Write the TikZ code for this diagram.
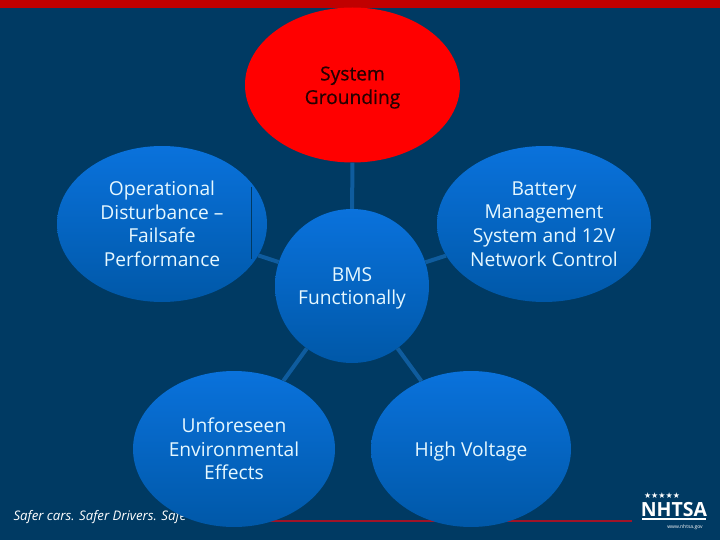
\documentclass[tikz,border=0pt]{standalone}
\usepackage{fontspec}
\setmainfont{Open Sans}
\newfontfamily\symfont{DejaVu Sans}
\newfontfamily\groundfont[FakeBold=0.6]{Open Sans}
\usetikzlibrary{shapes.geometric}
\definecolor{slidebg}{HTML}{003A63}
\definecolor{topbar}{HTML}{C00000}
\definecolor{footline}{HTML}{A01428}
\definecolor{linkblue}{HTML}{0F5C9E}
\definecolor{bubbletop}{HTML}{0A72DC}
\definecolor{bubblebot}{HTML}{0058A8}
\definecolor{bubbletext}{HTML}{E6F8FF}
\newcommand{\lifted}[1]{\rule{0pt}{#1}}
\tikzset{
  bubble/.style={ellipse,inner sep=0pt,top color=bubbletop,bottom color=bubblebot,
    text=bubbletext,align=center,font=\fontsize{19.2}{23.6}\selectfont},
  link/.style={linkblue,line width=4pt},
}
\begin{document}
\begin{tikzpicture}[x=1pt,y=-1pt]
  \fill[slidebg] (0,0) rectangle (720,540);
  \fill[topbar] (0,0) rectangle (720,8);
  \coordinate (linestart) at (200,521);
  \coordinate (lineend) at (632,521);
  \draw[footline,line width=1.2pt] (linestart) -- (lineend);
  \node[anchor=west,text=white,font=\fontsize{13.2}{15}\selectfont\itshape] (motto) at (10,517) {Safer cars. Safer Drivers. Safe};
  \node[bubble,minimum width=154pt,minimum height=154pt] (bms) at (352,286) {\lifted{19pt}BMS\\Functionally};
  \node[ellipse,inner sep=0pt,fill=red,text=black!85!red,align=center,minimum width=215pt,minimum height=155pt,
    font=\groundfont\fontsize{19.2}{23.6}\selectfont] (grounding) at (352.5,85) {\lifted{19pt}System\\Grounding};
  \node[bubble,minimum width=210pt,minimum height=156pt] (failsafe) at (162,224) {Operational\\Disturbance --\\Failsafe\\Performance};
  \node[bubble,minimum width=214pt,minimum height=156pt] (network) at (544,224) {Battery\\Management\\System and 12V\\Network Control};
  \node[bubble,minimum width=202pt,minimum height=156pt] (environment) at (234,449) {Unforeseen\\Environmental\\Effects};
  \node[bubble,minimum width=200pt,minimum height=156pt] (voltage) at (471,449) {\lifted{19pt}High Voltage};
  \draw[link] (bms) -- (grounding);
  \draw[link] (bms) -- (failsafe);
  \draw[link] (bms) -- (network);
  \draw[link] (bms) -- (environment);
  \draw[link] (bms) -- (voltage);
  % thin mark on the left bubble
  \coordinate (marktop) at (251.5,187);
  \coordinate (markbot) at (251.5,259);
  \draw[slidebg,line width=0.8pt] (marktop) -- (markbot);
  % logo
  \node[text=white,inner sep=0pt,font=\symfont\fontsize{8}{8}\selectfont] (stars) at (662,496) {★★★★★};
  \node[text=white,inner sep=0pt,font=\fontsize{19.5}{20}\bfseries\selectfont] (nhtsa) at (674,510) {NHTSA};
  \coordinate (barleft) at (642,519);
  \coordinate (barright) at (706,519);
  \draw[white,line width=2pt] (barleft) -- (barright);
  \node[text=white,inner sep=0pt,font=\fontsize{5}{5}\selectfont] (website) at (685,527) {www.nhtsa.gov};
\end{tikzpicture}
\end{document}
